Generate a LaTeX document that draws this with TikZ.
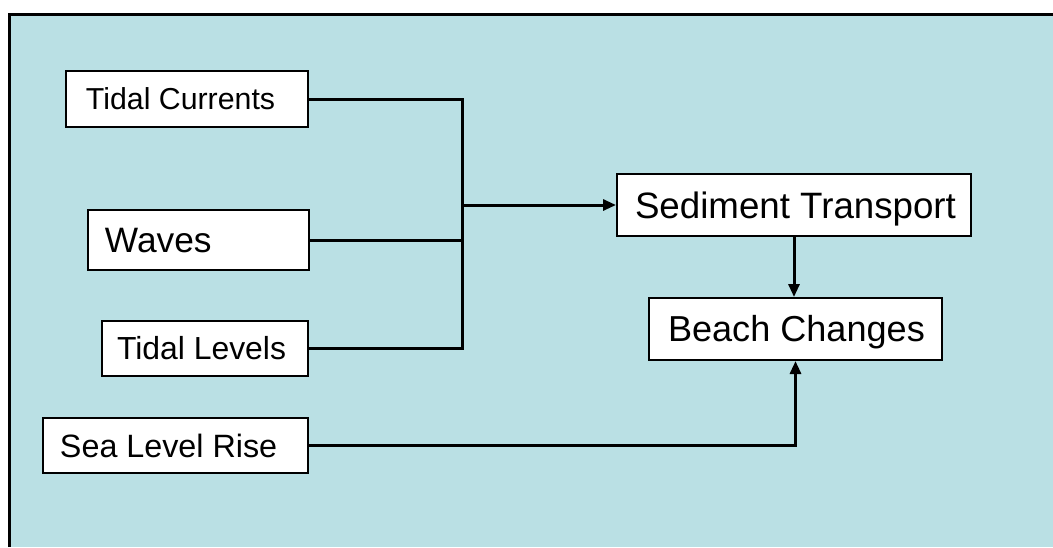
\documentclass[tikz,border=0pt]{standalone}
\usepackage{fontspec}
\setmainfont{Liberation Sans}
\usetikzlibrary{arrows.meta}

\definecolor{seabg}{RGB}{186,224,228}

% label set flush left inside a box of fixed width
\newcommand\lbl[4]{\makebox[#1][l]{\hspace*{#2}\fontsize{#3}{#3}\selectfont #4}}

\begin{document}
\begin{tikzpicture}[x=1pt,y=-1pt,
  box/.style={draw=black, fill=white, line width=2pt, inner sep=0pt, text depth=0pt, anchor=center},
  link/.style={draw=black, line width=3pt},
  tip/.style={-{Triangle[length=13pt,width=11pt]}}]
  \useasboundingbox (0,0) rectangle (1053,547);
  \fill[white] (0,0) rectangle (1053,547);
  \fill[seabg] (9,14) rectangle (1053,547);
  \draw[line width=3pt] (9,547) -- (9,14) -- (1053,14);

  % sources
  \node[box, minimum height=56pt, text height=21.7pt] (tc) at (187,99)
    {\lbl{242pt}{20pt}{30.3pt}{Tidal Currents}};
  \node[box, minimum height=60pt, text height=25.3pt] (wv) at (198.5,240)
    {\lbl{221pt}{17pt}{35.3pt}{Waves}};
  \node[box, minimum height=55pt, text height=22.8pt] (tl) at (205,348.5)
    {\lbl{206pt}{15pt}{31.9pt}{Tidal Levels}};
  \node[box, minimum height=55pt, text height=23.1pt] (slr) at (175.5,445.5)
    {\lbl{265pt}{17pt}{32.3pt}{Sea Level Rise}};

  % results
  \node[box, minimum height=62pt, text height=26.3pt] (st) at (794,205)
    {\lbl{354pt}{18pt}{36.7pt}{Sediment Transport}};
  \node[box, minimum height=62pt, text height=25.8pt] (bc) at (795.5,329)
    {\lbl{293pt}{19pt}{36.1pt}{Beach Changes}};

  % collecting bus
  \coordinate (j) at (462,205);
  \draw[link, line cap=rect] (tc.east) -- (tc.east -| j) -- (tl.east -| j) -- (tl.east);
  \draw[link] (wv.east) -- (wv.east -| j);
  \draw[link, tip] (j) -- (st.west);

  \draw[link, tip] (st.south) -- (bc.north -| st.south);
  \draw[link, tip] (slr.east) -| (bc.south);
\end{tikzpicture}
\end{document}
